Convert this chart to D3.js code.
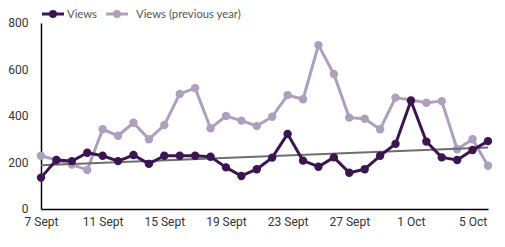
<!DOCTYPE html>
<html><head><meta charset="utf-8">
<script src="https://cdn.jsdelivr.net/npm/d3@7"></script>
<style>body{margin:0;background:#fff;}svg{display:block;}</style>
</head><body>
<svg id="c" width="505" height="247"></svg>
<script>
const dates = ["7 Sept","8 Sept","9 Sept","10 Sept","11 Sept","12 Sept","13 Sept","14 Sept","15 Sept","16 Sept","17 Sept","18 Sept","19 Sept","20 Sept","21 Sept","22 Sept","23 Sept","24 Sept","25 Sept","26 Sept","27 Sept","28 Sept","29 Sept","30 Sept","1 Oct","2 Oct","3 Oct","4 Oct","5 Oct","6 Oct"];
const views = [135,211,206,242,229,206,232,194,229,229,229,225,179,142,171,221,323,208,182,222,156,171,229,280,466,290,222,211,254,292];
const viewsPrev = [229,211,191,168,343,315,371,300,361,495,520,347,400,380,357,397,490,472,705,581,393,388,343,479,469,457,464,257,300,186];
const yTicks = [0,200,400,600,800];
const xTickLabels = ["7 Sept","11 Sept","15 Sept","19 Sept","23 Sept","27 Sept","1 Oct","5 Oct"];
const seriesNames = ["Views","Views (previous year)"];

const darkC = "#3d1452", lightC = "#ae9fbd", trendC = "#6e6e6e";
const svg = d3.select("#c");
const x = d3.scalePoint().domain(dates).range([41,488]);
const y = d3.scaleLinear().domain([0,800]).range([209,23]);

// axes
const xAxis = d3.axisBottom(x).tickValues(xTickLabels).tickSize(0).tickPadding(8);
const gx = svg.append("g").attr("transform","translate(0,209)").call(xAxis);
gx.select(".domain").attr("stroke","#000").attr("stroke-width",1.5);
gx.selectAll("text").attr("font-family","Roboto").attr("font-size",12).attr("font-weight","normal").attr("fill","#333");
const yAxis = d3.axisLeft(y).tickValues(yTicks).tickSize(0).tickPadding(12.5);
const gy = svg.append("g").attr("transform","translate(41,0)").call(yAxis);
gy.select(".domain").attr("stroke","#000").attr("stroke-width",1.5);
gy.selectAll("text").attr("font-family","Roboto").attr("font-size",12).attr("font-weight","normal").attr("fill","#333");

const line = d3.line().x((d,i)=>x(dates[i])).y(d=>y(d));

// previous year
svg.append("path").datum(viewsPrev).attr("d",line).attr("fill","none").attr("stroke",lightC).attr("stroke-width",3).attr("stroke-linejoin","round");
svg.append("g").selectAll("circle").data(viewsPrev).join("circle")
  .attr("cx",(d,i)=>x(dates[i])).attr("cy",d=>y(d)).attr("r",4.2).attr("fill",lightC);

// trend (linear regression of views)
const n = views.length;
const xs = d3.range(n);
const mx = d3.mean(xs), my = d3.mean(views);
const slope = d3.sum(xs,(v,i)=>(v-mx)*(views[i]-my))/d3.sum(xs,v=>(v-mx)*(v-mx));
const intercept = my - slope*mx;
svg.append("line").attr("x1",x(dates[0])).attr("x2",x(dates[n-1]))
  .attr("y1",y(intercept)).attr("y2",y(intercept+slope*(n-1)))
  .attr("stroke",trendC).attr("stroke-width",2);

// views
svg.append("path").datum(views).attr("d",line).attr("fill","none").attr("stroke",darkC).attr("stroke-width",3).attr("stroke-linejoin","round");
svg.append("g").selectAll("circle").data(views).join("circle")
  .attr("cx",(d,i)=>x(dates[i])).attr("cy",d=>y(d)).attr("r",4.2).attr("fill",darkC);

// legend
const leg = [{name:seriesNames[0],c:darkC,x:42,tx:67},{name:seriesNames[1],c:lightC,x:106,tx:136}];
const lg = svg.append("g");
leg.forEach(l=>{
  lg.append("line").attr("x1",l.x).attr("x2",l.x+22).attr("y1",14).attr("y2",14).attr("stroke",l.c).attr("stroke-width",3);
  lg.append("circle").attr("cx",l.x+11).attr("cy",14).attr("r",4).attr("fill",l.c);
  lg.append("text").attr("x",l.tx).attr("y",14).attr("dy","0.35em").attr("font-family","Lato").attr("font-size",11.3).attr("fill","#555").text(l.name);
});
</script>
</body></html>
